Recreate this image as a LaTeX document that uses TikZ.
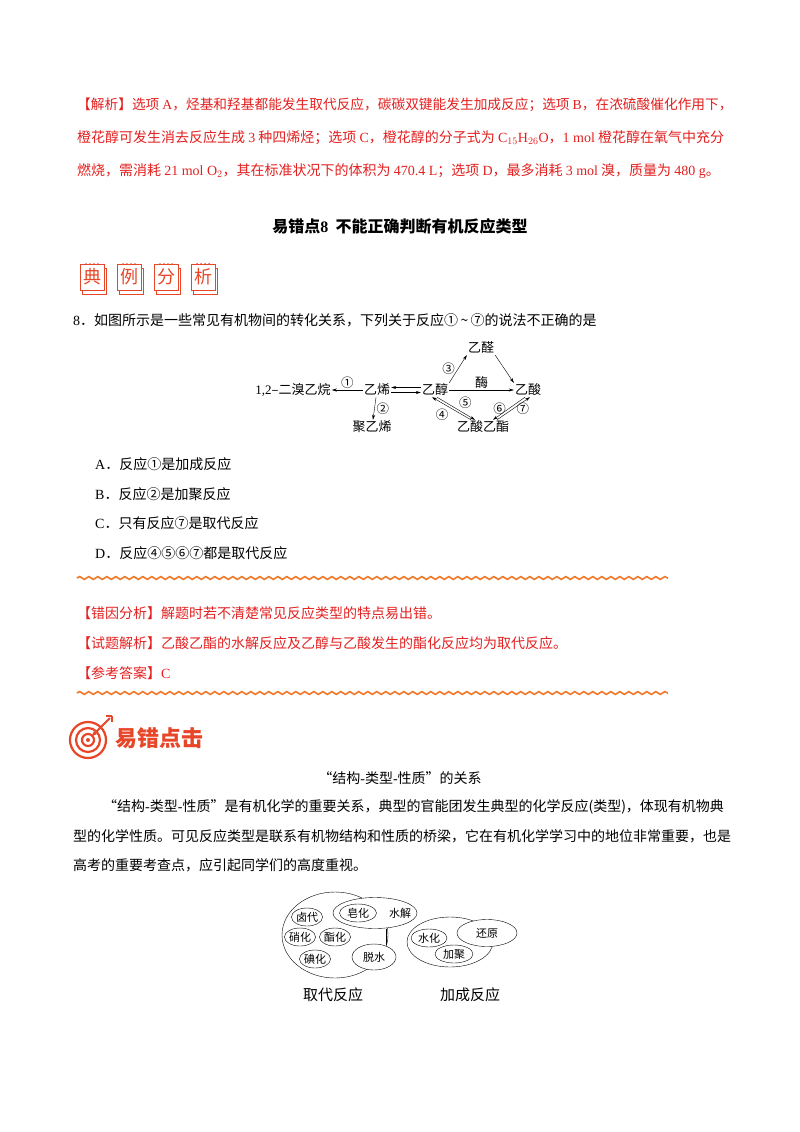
\documentclass[tikz,border=0pt]{standalone}
\usepackage{fontspec}
\setmainfont{Noto Sans CJK SC}
\newfontfamily\lat{Liberation Serif}
\usetikzlibrary{shapes.geometric,decorations.pathmorphing,arrows.meta}
\definecolor{redtxt}{RGB}{228,32,32}
\definecolor{orng}{RGB}{240,120,40}
\definecolor{iconred}{RGB}{232,70,40}
\newcommand{\fs}[1]{\fontsize{#1}{#1}\selectfont}
\tikzset{
  txt/.style={anchor=west,inner sep=0pt,font=\fs{14}},
  rtxt/.style={txt,text=redtxt},
  chem/.style={inner sep=1pt,font=\fs{13}},
  rx/.style={-{Stealth[length=5pt,width=3pt]},thin},
  num/.style={font=\fs{12.5},inner sep=0pt},
  wavy/.style={orng,line width=1.6pt,decorate,decoration={snake,amplitude=1.4pt,segment length=9pt}},
  ell/.style={draw,ellipse,inner sep=0pt,font=\fs{11}},
  iconbox/.style={draw=iconred,line width=0.8pt,minimum width=24pt,minimum height=26pt,inner sep=0pt,text=iconred,font=\fs{18}}
}
\begin{document}
\begin{tikzpicture}[x=1pt,y=-1pt]
\useasboundingbox[fill=white] (0,0) rectangle (800,1132);
% analysis
\node[rtxt,font=\fs{13.7}] (r1) at (77,105) {【解析】选项 {\lat A}，烃基和羟基都能发生取代反应，碳碳双键能发生加成反应；选项 {\lat B}，在浓硫酸催化作用下，};
\node[rtxt] (r2) at (77,138) {橙花醇可发生消去反应生成 {\lat 3} 种四烯烃；选项 {\lat C}，橙花醇的分子式为 {\lat C$_{15}$H$_{26}$O}，{\lat 1 mol} 橙花醇在氧气中充分};
\node[rtxt] (r3) at (77,171) {燃烧，需消耗 {\lat 21 mol O$_2$}，其在标准状况下的体积为 {\lat 470.4 L}；选项 {\lat D}，最多消耗 {\lat 3 mol} 溴，质量为 {\lat 480 g}。};
\node[font=\fs{16}\bfseries] (title) at (400,226) {易错点{\lat\bfseries 8} \ 不能正确判断有机反应类型};
% icons
\foreach \c/\x in {典/92,例/129,分/166,析/203}{
  \draw[iconred,line width=0.6pt] (\x-10,279-11) rectangle (\x+14,279+15);
  \node[iconbox,fill=white] (ic\c) at (\x,277) {\c};
  \foreach \d in {-6,-2,2,6} \fill[iconred] (\x+\d,264) circle (1pt);
}
\node[txt] (q) at (73,320) {{\lat 8}．如图所示是一些常见有机物间的转化关系，下列关于反应①\,\textasciitilde\,⑦的说法不正确的是};
% reaction diagram
\node[chem] (dbr) at (293,390) {{\lat 1,2}–二溴乙烷};
\node[chem] (ene) at (377,390) {乙烯};
\node[chem] (ol) at (435,390) {乙醇};
\node[chem] (al) at (481,348) {乙醛};
\node[chem] (acid) at (528,390) {乙酸};
\node[chem] (pe) at (372,427) {聚乙烯};
\node[chem] (est) at (483,427) {乙酸乙酯};
\draw[rx] (ene) -- node[num,above=1pt]{①} (dbr);
\draw[rx] (ene) -- node[num,right=2pt]{②} (pe);
\draw[rx] ([yshift=-2.5]ene.east) -- ([yshift=-2.5]ol.west);
\draw[rx] ([yshift=2.5]ol.west) -- ([yshift=2.5]ene.east);
\draw[rx] (ol.north east) -- node[num,left,xshift=-3]{③} (al.south west);
\draw[rx] (al.south east) -- (acid.north west);
\draw[rx] (ol) -- node[chem,above]{酶} (acid);
\draw[rx] ([xshift=2]ol.south) -- node[num,above right,xshift=3]{⑤} ([xshift=-8]est.north);
\draw[rx] ([xshift=-12]est.north) -- node[num,below left,xshift=-3]{④} ([xshift=-3]ol.south);
\draw[rx] ([xshift=-3]acid.south) -- node[num,left,xshift=-3]{⑥} ([xshift=10]est.north);
\draw[rx] ([xshift=14]est.north) -- node[num,right,xshift=3]{⑦} ([xshift=2]acid.south);
% options
\node[txt] (oa) at (95,464) {{\lat A}．反应①是加成反应};
\node[txt] (ob) at (95,494) {{\lat B}．反应②是加聚反应};
\node[txt] (oc) at (95,523) {{\lat C}．只有反应⑦是取代反应};
\node[txt] (od) at (95,553) {{\lat D}．反应④⑤⑥⑦都是取代反应};
\coordinate (w1a) at (77,578); \coordinate (w1b) at (668,578);
\draw[wavy] (w1a) -- (w1b);
\node[rtxt] (e1) at (77,613) {【错因分析】解题时若不清楚常见反应类型的特点易出错。};
\node[rtxt] (e2) at (77,643) {【试题解析】乙酸乙酯的水解反应及乙醇与乙酸发生的酯化反应均为取代反应。};
\node[rtxt] (e3) at (77,673) {【参考答案】{\lat C}};
\coordinate (w2a) at (77,693); \coordinate (w2b) at (668,693);
\draw[wavy] (w2a) -- (w2b);
% target icon
\foreach \r in {18,12,6} \draw[iconred,line width=2.2pt] (88,740) circle (\r);
\fill[iconred] (88,740) circle (2);
\draw[iconred,line width=1.8pt,-{Latex[length=6pt]}] (110,718) -- (91,737);
\draw[iconred,line width=1.5pt] (106,716) -- (112,716) (112,716)--(112,722);
\node[anchor=west,text=iconred,font=\fs{22}\bfseries] (yc) at (112,738) {易错点击};
% explanation
\node[font=\fs{14}] (h2) at (400,778) {“结构{\lat -}类型{\lat -}性质”的关系};
\node[txt] (p1) at (103,807) {“结构{\lat -}类型{\lat -}性质”是有机化学的重要关系，典型的官能团发生典型的化学反应(类型)，体现有机物典};
\node[txt] (p2) at (73,836) {型的化学性质。可见反应类型是联系有机物结构和性质的桥梁，它在有机化学学习中的地位非常重要，也是};
\node[txt] (p3) at (73,865) {高考的重要考查点，应引起同学们的高度重视。};
% bottom diagram
\node[ell,minimum width=106pt,minimum height=86pt] (big1) at (335,935) {};
\node[ell,fill=white,minimum width=84pt,minimum height=31pt] (sj) at (375,913) {};
\node[font=\fs{11},inner sep=0pt] (sjt) at (400,913) {水解};
\node[ell,minimum width=37pt,minimum height=18pt] (zh) at (358,913) {皂化};
\node[ell,minimum width=29pt,minimum height=18pt] (ld) at (307,917) {卤代};
\node[ell,minimum width=29pt,minimum height=18pt] (xh) at (300,937) {硝化};
\node[ell,minimum width=29pt,minimum height=18pt] (zhh) at (335,937) {酯化};
\node[ell,minimum width=29pt,minimum height=18pt] (dh) at (315,959) {碘化};
\node[ell,fill=white,minimum width=44pt,minimum height=26pt] (ts) at (374,957) {脱水};
\draw (386,928.5) -- (386,944.5);
\node[ell,minimum width=86pt,minimum height=50pt] (big2) at (450,942) {};
\node[ell,fill=white,minimum width=60pt,minimum height=27pt] (hy) at (487,933) {还原};
\node[ell,minimum width=36pt,minimum height=18pt] (shh) at (429,938) {水化};
\node[ell,fill=white,minimum width=38pt,minimum height=18pt] (jj) at (454,954) {加聚};
\node[font=\fs{15}] (l1) at (333,995) {取代反应};
\node[font=\fs{15}] (l2) at (470,995) {加成反应};
\end{tikzpicture}
\end{document}
